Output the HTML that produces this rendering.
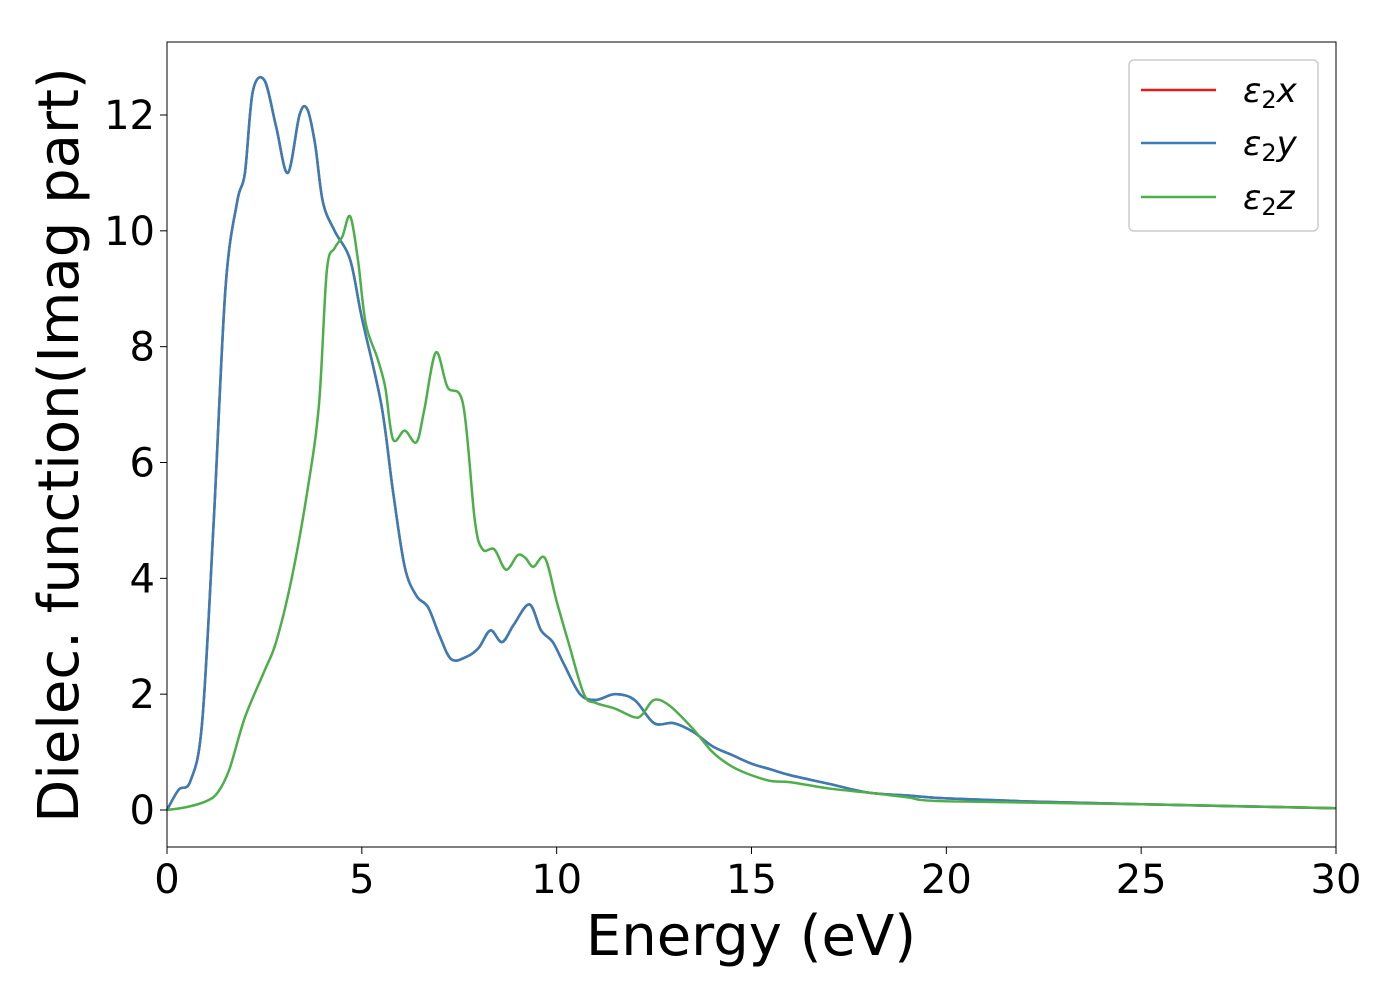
<!DOCTYPE html>
<html><head><meta charset="utf-8"><style>
body{margin:0;background:#fff;}
svg text{font-family:"DejaVu Sans","Liberation Sans",sans-serif;}
</style></head><body>
<svg id="chart" width="1400" height="1000" xmlns="http://www.w3.org/2000/svg">
<g id="plot"></g>
</svg>
<script>
const xTicks=[0,5,10,15,20,25,30];
const yTicks=[0,2,4,6,8,10,12];
const xsXY=[0,0.3,0.6,0.9,1.2,1.5,1.8,2.0,2.2,2.5,2.8,3.1,3.4,3.6,3.8,4.0,4.3,4.7,5.0,5.5,5.8,6.1,6.4,6.7,7.0,7.3,7.7,8.0,8.3,8.6,8.9,9.3,9.6,9.9,10.2,10.6,11.0,11.5,12.0,12.5,13.0,13.5,14.0,14.5,15,15.5,16,17,18,19,20,22,25,30];
const ysXY=[0,0.35,0.5,1.5,5,9,10.5,11,12.4,12.6,11.8,11.0,12,12.1,11.5,10.5,10,9.5,8.5,7,5.5,4.2,3.7,3.5,3,2.6,2.65,2.8,3.1,2.9,3.2,3.55,3.1,2.9,2.5,2.0,1.9,2.0,1.9,1.5,1.5,1.35,1.1,0.95,0.8,0.7,0.6,0.45,0.3,0.25,0.2,0.15,0.1,0.03];
const xsZ=[0,0.5,1.0,1.3,1.6,2.0,2.5,2.8,3.2,3.6,3.9,4.1,4.3,4.5,4.7,4.9,5.1,5.4,5.6,5.8,6.1,6.4,6.6,6.9,7.2,7.6,7.9,8.1,8.4,8.7,9.0,9.2,9.4,9.7,10.0,10.3,10.7,11.0,11.5,12.0,12.2,12.5,12.9,13.5,14.0,14.5,15,15.5,16,17,18,19,20,25,30];
const ysZ=[0,0.05,0.15,0.3,0.7,1.6,2.4,2.9,4,5.5,7,9.3,9.7,9.9,10.25,9.5,8.4,7.8,7.3,6.4,6.55,6.35,6.9,7.9,7.3,7.0,5,4.5,4.5,4.15,4.4,4.35,4.2,4.35,3.6,2.9,2.0,1.85,1.75,1.6,1.65,1.9,1.8,1.4,1.0,0.75,0.6,0.5,0.48,0.37,0.3,0.22,0.15,0.1,0.03];
const L=167,R=1336,T=42,B=847;
const sx=v=>L+(v/30)*(R-L);
const sy=v=>810-v*(810-115)/12;
const NS="http://www.w3.org/2000/svg";
const g=document.getElementById('plot');
function mk(t,a,txt){const e=document.createElementNS(NS,t);for(const k in a)e.setAttribute(k,a[k]);if(txt!==undefined)e.textContent=txt;g.appendChild(e);return e;}
function smooth(xs,ys){let p=xs.map((x,i)=>[sx(x),sy(ys[i])]);let d="M"+p[0][0]+","+p[0][1];
for(let i=0;i<p.length-1;i++){const p0=p[i-1]||p[i],p1=p[i],p2=p[i+1],p3=p[i+2]||p2;
const c1=[p1[0]+(p2[0]-p0[0])/6,p1[1]+(p2[1]-p0[1])/6],c2=[p2[0]-(p3[0]-p1[0])/6,p2[1]-(p3[1]-p1[1])/6];
d+=" C"+c1+" "+c2+" "+p2;}return d;}
let s=mk('path',{d:smooth(xsXY,ysXY),fill:'none',stroke:'#e41a1c','stroke-width':2.5});

s=mk('path',{d:smooth(xsXY,ysXY),fill:'none',stroke:'#377eb8','stroke-width':2.5});

s=mk('path',{d:smooth(xsZ,ysZ),fill:'none',stroke:'#4daf4a','stroke-width':2.5});

let f=mk('rect',{x:L,y:T,width:R-L,height:B-T,fill:'none',stroke:'#000','stroke-width':1});

xTicks.forEach(v=>{const x=sx(v);let t=mk('line',{x1:x,x2:x,y1:B,y2:B+7,stroke:'#000'});
let l=mk('text',{x:x,y:B+46,'font-size':40,'text-anchor':'middle'},v);});
yTicks.forEach(v=>{const y=sy(v);let t=mk('line',{x1:L-7,x2:L,y1:y,y2:y,stroke:'#000'});
let l=mk('text',{x:L-12,y:y+14,'font-size':40,'text-anchor':'end'},v);});
let xt=mk('text',{x:751,y:955,'font-size':56,'text-anchor':'middle'},'Energy (eV)');
let yt=mk('text',{x:0,y:0,'font-size':56,'text-anchor':'middle',transform:'translate(78,445) rotate(-90)'},'Dielec. function(Imag part)');
let lg=mk('rect',{x:1129,y:60,width:189,height:171,rx:5,fill:'#fff',stroke:'#ccc','stroke-width':1.5});
[['#e41a1c','x',90],['#377eb8','y',143],['#4daf4a','z',197]].forEach(([c,n,y])=>{
let ln=mk('line',{x1:1141,x2:1216,y1:y,y2:y,stroke:c,'stroke-width':2.5});
let tx=mk('text',{x:1243,y:y+12,'font-size':34,'font-style':'italic'});
tx.innerHTML='ε<tspan font-style="normal" font-size="24" dy="6">2</tspan><tspan dy="-6">'+n+'</tspan>';});
</script>
</body></html>
